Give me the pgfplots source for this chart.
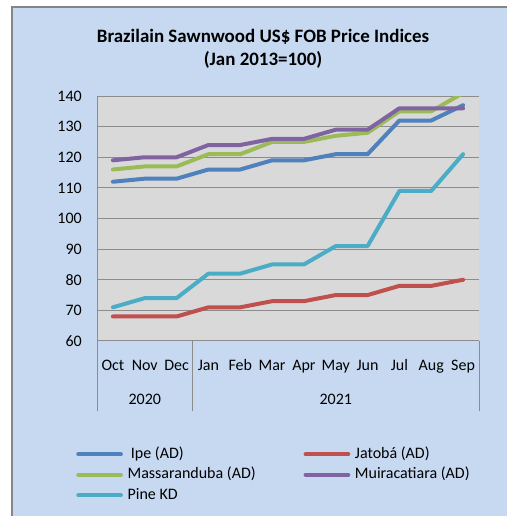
\documentclass[border=0pt]{standalone}
\usepackage{pgfplots}
\pgfplotsset{compat=1.18}
\usepackage{fontspec}
\setmainfont{Carlito}
\definecolor{ipe}{HTML}{4F81BD}
\definecolor{jatoba}{HTML}{C0504D}
\definecolor{massa}{HTML}{9BBB59}
\definecolor{muira}{HTML}{8064A2}
\definecolor{pine}{HTML}{4BACC6}
\definecolor{panel}{HTML}{C6D9F1}
\definecolor{plotbg}{HTML}{D9D9D9}
\definecolor{gridgray}{HTML}{8C8C8C}
\definecolor{bordergray}{HTML}{858585}
\newcommand{\LA}[1]{\makebox[100pt][l]{#1}}
\newcommand{\LB}[1]{\makebox[110pt][l]{#1}}
\begin{document}
\begin{tikzpicture}
\useasboundingbox (0,0) rectangle (379.5pt,387pt);
\fill[white] (0,0) rectangle (379.5pt,387pt);
\fill[panel] (9pt,-5pt) rectangle (385pt,381.75pt);
\draw[bordergray,line width=1.8pt] (9pt,-5pt) -- (9pt,381.75pt) -- (385pt,381.75pt);
\node[font=\bfseries\fontsize{14.2}{16}\selectfont, anchor=base] at (197.25pt,354.75pt) {Brazilain Sawnwood US\$ FOB Price Indices};
\node[font=\bfseries\fontsize{14.2}{16}\selectfont, anchor=base] at (197.25pt,337.5pt) {(Jan 2013=100)};
\begin{axis}[
  scale only axis, width=286.5pt, height=183.75pt,
  at={(72.75pt,131.25pt)}, anchor=south west,
  xmin=-0.5, xmax=11.5, ymin=60, ymax=140,
  xtick={0,...,11},
  xticklabels={Oct,Nov,Dec,Jan,Feb,Mar,Apr,May,Jun,Jul,Aug,Sep},
  ytick={60,70,...,140},
  major tick length=0pt,
  axis background/.style={fill=plotbg},
  axis lines*=left,
  axis line style={gridgray, line width=0.75pt},
  ymajorgrids, grid style={gridgray, line width=0.75pt},
  tick label style={font=\fontsize{12}{14}\selectfont},
  /pgf/number format/assume math mode=true,
  yticklabel style={anchor=east, inner sep=0pt, xshift=-11.25pt},
  xticklabel style={anchor=base, inner sep=0pt, yshift=-22.3pt},
  clip mode=individual,
  every axis plot/.append style={line width=3pt, line join=round, line cap=round},
  legend columns=2,
  legend cell align=left,
  legend image code/.code={\draw[#1, line width=3pt] (0pt,0pt) -- (32pt,0pt);},
  legend style={at={(-0.055,-0.4286)}, anchor=north west, draw=none, fill=none,
    font=\fontsize{12}{14}\selectfont, inner sep=0pt, row sep=3.4pt,
    nodes={inner sep=0pt, text height=9pt, text depth=3pt},
    /tikz/every odd column/.append style={column sep=3.5pt},
    /tikz/every even column/.append style={column sep=32pt}},
]
\addplot[ipe] coordinates {(0,112)(1,113)(2,113)(3,116)(4,116)(5,119)(6,119)(7,121)(8,121)(9,132)(10,132)(11,137)};
\addlegendentry{\LA{\hspace{2.5pt}Ipe (AD)}}
\addplot[jatoba] coordinates {(0,68)(1,68)(2,68)(3,71)(4,71)(5,73)(6,73)(7,75)(8,75)(9,78)(10,78)(11,80)};
\addlegendentry{\LB{Jatobá (AD)}}
\addplot[massa] coordinates {(0,116)(1,117)(2,117)(3,121)(4,121)(5,125)(6,125)(7,127)(8,128)(9,135)(10,135)(11,141)};
\addlegendentry{\LA{Massaranduba (AD)}}
\addplot[muira] coordinates {(0,119)(1,120)(2,120)(3,124)(4,124)(5,126)(6,126)(7,129)(8,129)(9,136)(10,136)(11,136)};
\addlegendentry{\LB{Muiracatiara (AD)}}
\addplot[pine] coordinates {(0,71)(1,74)(2,74)(3,82)(4,82)(5,85)(6,85)(7,91)(8,91)(9,109)(10,109)(11,121)};
\addlegendentry{\LA{Pine KD}}
\draw[gridgray, line width=0.75pt] (axis cs:-0.5,60) -- ++(0pt,-52.5pt);
\draw[gridgray, line width=0.75pt] (axis cs:2.5,60) -- ++(0pt,-52.5pt);
\draw[gridgray, line width=0.75pt] (axis cs:11.5,60) -- ++(0pt,-52.5pt);
\node[anchor=base, yshift=-48pt, font=\fontsize{12}{14}\selectfont] at (axis cs:1,60) {2020};
\node[anchor=base, yshift=-48pt, font=\fontsize{12}{14}\selectfont] at (axis cs:7,60) {2021};
\end{axis}
\end{tikzpicture}
\end{document}
